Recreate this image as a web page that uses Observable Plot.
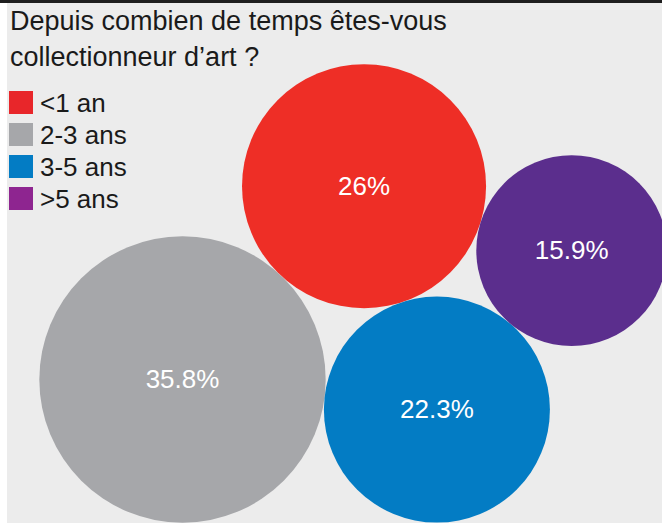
<!DOCTYPE html>
<html>
<head>
<meta charset="utf-8">
<script src="https://cdn.jsdelivr.net/npm/d3@7"></script>
<script src="https://cdn.jsdelivr.net/npm/@observablehq/plot@0.6"></script>
<style>
  html, body { margin: 0; padding: 0; background: #ffffff; }
  #wrap { position: relative; width: 662px; height: 525px; overflow: hidden; font-family: "Liberation Sans", Arial, sans-serif; color: #1a1a1a; }
  #topline { position: absolute; left: 0; top: 0; width: 662px; height: 2.5px; background: #1e1e1e; }
  #bg { position: absolute; left: 7px; top: 3px; width: 655px; height: 520px; background: #ececec; }
  #chart { position: absolute; left: 0; top: 0; }
  #title { position: absolute; left: 10px; top: 2.5px; font-size: 27px; line-height: 36.5px; margin: 0; font-weight: normal; white-space: nowrap; }
  #legend { position: absolute; left: 9px; top: 91px; }
  .item { display: flex; height: 23px; margin-bottom: 9px; }
  .sw { width: 24px; height: 23px; flex: none; }
  .lab { margin-left: 7px; font-size: 26px; line-height: 23px; padding-top: 0.5px; white-space: nowrap; }
</style>
</head>
<body>
<div id="wrap">
  <div id="topline"></div>
  <div id="bg"></div>
  <div id="chart"></div>
  <div id="title"></div>
  <div id="legend"></div>
</div>
<script>
// ---- data ----
const titleLines = ["Depuis combien de temps êtes-vous", "collectionneur d’art ?"];
const categories = ["<1 an", "2-3 ans", "3-5 ans", ">5 ans"];
const values = [26, 35.8, 22.3, 15.9];
const labels = ["26%", "35.8%", "22.3%", "15.9%"];
const circleColors = ["#ee2e26", "#a6a7aa", "#037cc4", "#5b2e8d"];
const legendColors = ["#e8262a", "#a6a7aa", "#037cc4", "#8e2590"];

// ---- layout: circles packed tangent to one another (radius ∝ √value) ----
const W = 662, H = 525;
const rMax = 239.3; // radius for 100 %
const rScale = d3.scaleSqrt().domain([0, 100]).range([0, rMax]);
const R = values.map(rScale);

function tangent(A, rA, B, rB, rC) {
  const dx = B[0] - A[0], dy = B[1] - A[1], d = Math.hypot(dx, dy);
  const da = rA + rC, db = rB + rC;
  const a = (da * da - db * db + d * d) / (2 * d);
  const h = Math.sqrt(Math.max(0, da * da - a * a));
  const ux = dx / d, uy = dy / d;
  return [A[0] + a * ux - h * uy, A[1] + a * uy + h * ux];
}
const pos = [];
pos[1] = [182, 379];                         // anchor: largest circle
const ang = -46.8 * Math.PI / 180;
pos[0] = [pos[1][0] + (R[0] + R[1]) * Math.cos(ang), pos[1][1] + (R[0] + R[1]) * Math.sin(ang)];
pos[2] = tangent(pos[1], R[1], pos[0], R[0], R[2]);
pos[3] = tangent(pos[2], R[2], pos[0], R[0], R[3]);

const data = categories.map((c, i) => ({category: c, value: values[i], label: labels[i], cx: pos[i][0], cy: pos[i][1]}));

const chart = Plot.plot({
  width: W,
  height: H,
  margin: 0,
  style: {background: "transparent", fontFamily: "Liberation Sans, Arial, sans-serif"},
  x: {domain: [0, W], range: [0, W], axis: null},
  y: {domain: [0, H], range: [0, H], axis: null},
  r: {type: "sqrt", domain: [0, 100], range: [0, rMax]},
  color: {domain: categories, range: circleColors},
  marks: [
    Plot.dot(data, {x: "cx", y: "cy", r: "value", fill: "category"}),
    Plot.text(data, {x: "cx", y: "cy", text: "label", fill: "white", fontSize: 26, fontFamily: "Liberation Sans, Arial, sans-serif"})
  ]
});
document.getElementById("chart").appendChild(chart);

// ---- title ----
const t = document.getElementById("title");
titleLines.forEach(line => { const d = document.createElement("div"); d.textContent = line; t.appendChild(d); });

// ---- legend ----
const lg = document.getElementById("legend");
categories.forEach((c, i) => {
  const it = document.createElement("div"); it.className = "item";
  const sw = document.createElement("div"); sw.className = "sw"; sw.style.background = legendColors[i];
  const lb = document.createElement("div"); lb.className = "lab"; lb.textContent = c;
  it.appendChild(sw); it.appendChild(lb); lg.appendChild(it);
});
</script>
</body>
</html>
